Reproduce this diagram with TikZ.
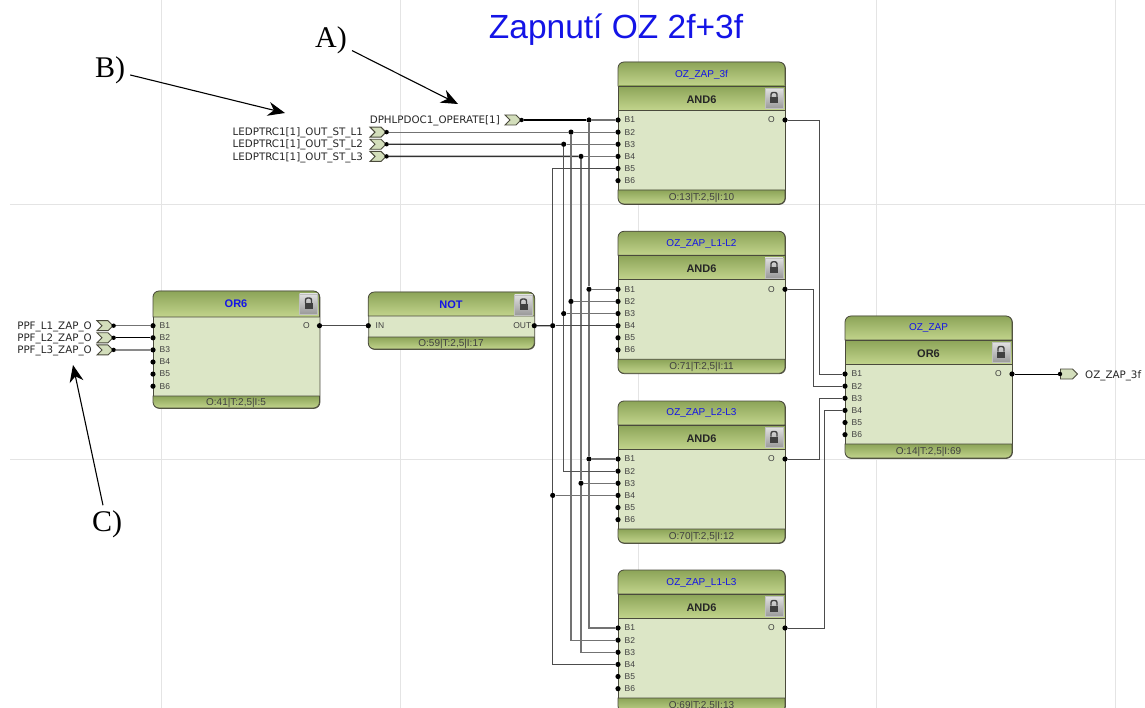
\documentclass[tikz,border=0pt]{standalone}
\usepackage{fontspec}
\setmainfont{Liberation Sans}
\newfontfamily\annotfont{Liberation Serif}
\newfontfamily\pinfont{DejaVu Sans}
\usetikzlibrary{arrows.meta,shapes.symbols}
\definecolor{edgeC}{HTML}{4A4A3C}
\definecolor{bodyC}{HTML}{DCE6C6}
\definecolor{bandTop}{HTML}{8CA458}
\definecolor{bandBot}{HTML}{C2D48C}
\definecolor{pinC}{HTML}{D3DEBB}
\definecolor{titleC}{HTML}{1414E6}
\definecolor{gridC}{HTML}{E4E4E4}
\begin{document}
\begin{tikzpicture}[x=1pt,y=-1pt,
    gridline/.style={gridC,line width=1pt},
    blockbody/.style={draw=edgeC,fill=bodyC,rounded corners=6pt,anchor=north west,inner sep=0pt,line width=.8pt},
    band/.style={draw=edgeC,line width=.8pt,top color=bandTop,bottom color=bandBot},
    port/.style={circle,fill=black,inner sep=0pt,minimum size=5.2pt},
    portlabel/.style={font=\fontsize{8.5}{10}\selectfont,text=black!75,inner sep=0pt},
    blocktitle/.style={font=\fontsize{10}{12}\selectfont,text=titleC,inner sep=0pt},
    blocktitleb/.style={font=\fontsize{11}{13}\selectfont\bfseries,text=titleC,inner sep=0pt},
    gatename/.style={font=\fontsize{11}{13}\selectfont\bfseries,text=black!85,inner sep=0pt},
    footer/.style={font=\fontsize{10}{12}\selectfont,text=black!75,inner sep=0pt},
    inpin/.style={signal,signal to=east,signal from=west,draw=edgeC,fill=pinC,line width=.9pt,minimum width=16pt,minimum height=10pt,inner sep=0pt},
    outpin/.style={signal,signal to=east,draw=edgeC,fill=pinC,line width=.9pt,minimum width=17pt,minimum height=10pt,inner sep=0pt},
    pintext/.style={font=\pinfont\fontsize{10.3}{12}\selectfont,text=black!85,inner sep=0pt},
    annot/.style={font=\annotfont\fontsize{30}{32}\selectfont,inner sep=5pt},
    pointer/.style={-{Stealth[length=17pt,width=14pt]},line width=1.1pt},
    wire/.style={black!55,line width=1.2pt},
    wiredark/.style={black!80,line width=1.3pt},
    wiremid/.style={black!68,line width=1.2pt},
    wireblack/.style={black,line width=1.4pt},
    wirethin/.style={black!70,line width=.9pt},
    lockbtn/.pic={
      \shade[top color=black!12,bottom color=black!40,draw=black!25] (-9,-10) rectangle (9,10);
      \fill[black!75] (-4,-1) rectangle (4,5);
      \draw[black!75,line width=1.4pt,rounded corners=2pt] (-3,-1) -- (-3,-6) -- (3,-6) -- (3,-1);
    }]
  \clip (0,0) rectangle (1145,708);
  % background grid
  \foreach \gx in {161,400,638,876,1115}{ \draw[gridline] (\gx,0) -- (\gx,708); }
  \foreach \gy in {205,459}{ \draw[gridline] (10,\gy) -- (1145,\gy); }
  % title
  \node[font=\fontsize{33.5}{38}\selectfont,text=titleC,inner sep=0pt] (heading) at (616,30) {Zapnutí OZ 2f+3f};
  % blocks with name and gate
  \foreach \n/\x/\y/\ttl/\gate/\foot in {
      zap3f/618/62/OZ\_ZAP\_3f/AND6/{O:13|T:2,5|I:10},
      zap12/618/231.3/OZ\_ZAP\_L1-L2/AND6/{O:71|T:2,5|I:11},
      zap23/618/401/OZ\_ZAP\_L2-L3/AND6/{O:70|T:2,5|I:12},
      zap13/618/570/OZ\_ZAP\_L1-L3/AND6/{O:69|T:2,5|I:13},
      zapout/845/316/OZ\_ZAP/OR6/{O:14|T:2,5|I:69}}{
    \node[blockbody,minimum width=167pt,minimum height=142pt] (\n) at (\x,\y) {};
    \path[band] (\x,\y+24) [rounded corners=6pt] -- (\x,\y) -- (\x+167,\y) [sharp corners] -- (\x+167,\y+24) -- cycle;
    \path[band] (\x,\y+24) rectangle (\x+167,\y+48);
    \path[band] (\x,\y+128) -- (\x+167,\y+128) [rounded corners=6pt] -- (\x+167,\y+142) -- (\x,\y+142) [sharp corners] -- cycle;
    \node[blocktitle] (\n-t) at (\x+83.5,\y+12.5) {\ttl};
    \node[gatename] (\n-g) at (\x+83.5,\y+37.5) {\gate};
    \node[footer] (\n-f) at (\x+83.5,\y+135.5) {\foot};
    \pic at (\x+156,\y+36.5) {lockbtn};
    \foreach \k in {1,...,6}{
      \node[port] (\n-B\k) at (\x,\y+58+12.13*\k-12.13) {};
      \node[portlabel,anchor=west] (\n-L\k) at (\x+6.5,\y+58+12.13*\k-12.13) {B\k};
    }
    \node[port] (\n-O) at (\x+167,\y+58) {};
    \node[portlabel,anchor=east] (\n-OL) at (\x+157,\y+58) {O};
  }
  % OR6 on the left
  \node[blockbody,minimum width=166.5pt,minimum height=117pt] (orin) at (153,291) {};
  \path[band] (153,317) [rounded corners=6pt] -- (153,291) -- (319.5,291) [sharp corners] -- (319.5,317) -- cycle;
  \path[band] (153,396) -- (319.5,396) [rounded corners=6pt] -- (319.5,408) -- (153,408) [sharp corners] -- cycle;
  \node[blocktitleb] (orin-t) at (236,304) {OR6};
  \node[footer] (orin-f) at (236,402.5) {O:41|T:2,5|I:5};
  \pic at (308.5,304) {lockbtn};
  \foreach \k in {1,...,6}{
    \node[port] (orin-B\k) at (153,325.7+12.1*\k-12.1) {};
    \node[portlabel,anchor=west] (orin-L\k) at (159.5,325.7+12.1*\k-12.1) {B\k};
  }
  \node[port] (orin-O) at (319.5,325.7) {};
  \node[portlabel,anchor=east] (orin-OL) at (310,325.7) {O};
  % NOT
  \node[blockbody,minimum width=166pt,minimum height=57pt] (notg) at (368.3,292) {};
  \path[band] (368.3,316) [rounded corners=6pt] -- (368.3,292) -- (534.3,292) [sharp corners] -- (534.3,316) -- cycle;
  \path[band] (368.3,337) -- (534.3,337) [rounded corners=6pt] -- (534.3,349) -- (368.3,349) [sharp corners] -- cycle;
  \node[blocktitleb] (notg-t) at (451,304.5) {NOT};
  \node[footer] (notg-f) at (451,343.5) {O:59|T:2,5|I:17};
  \pic at (523.5,305) {lockbtn};
  \node[port] (notg-IN) at (368.3,325.7) {};
  \node[portlabel,anchor=west] (notg-INL) at (375.5,325.7) {IN};
  \node[port] (notg-O) at (534.3,325.7) {};
  \node[portlabel,anchor=east] (notg-OL) at (531.5,325.7) {OUT};
  % input pins
  \foreach \n/\px/\py/\tx/\txt in {
      dp/513/120/500/DPHLPDOC1\_OPERATE[1],
      led1/378/132.13/363/LEDPTRC1[1]\_OUT\_ST\_L1,
      led2/378/144.26/363/LEDPTRC1[1]\_OUT\_ST\_L2,
      led3/378/156.39/363/LEDPTRC1[1]\_OUT\_ST\_L3,
      ppf1/105/325.7/92/PPF\_L1\_ZAP\_O,
      ppf2/105/337.8/92/PPF\_L2\_ZAP\_O,
      ppf3/105/349.9/92/PPF\_L3\_ZAP\_O}{
    \node[inpin] (\n) at (\px,\py) {};
    \node[port,minimum size=4.4pt] (\n-o) at (\n.east) {};
    \node[pintext,anchor=east] (\n-t) at (\tx,\py+1) {\txt};
  }
  % output pin
  \node[outpin,anchor=west] (zapq) at (1060,374) {};
  \node[port,minimum size=4.4pt] (zapq-i) at (zapq.west) {};
  \node[pintext,anchor=west] (zapq-t) at (1085,375.5) {OZ\_ZAP\_3f};
  % vertical buses
  \coordinate (bus1) at (589,0);
  \coordinate (bus2) at (571,0);
  \coordinate (bus3) at (563.7,0);
  \coordinate (bus4) at (581,0);
  \coordinate (bus5) at (552.7,0);
  \node[port] (j1a) at (bus1 |- zap3f-B1) {};
  \node[port] (j1b) at (bus1 |- zap12-B1) {};
  \node[port] (j1c) at (bus1 |- zap23-B1) {};
  \node[port] (j2a) at (bus2 |- zap3f-B2) {};
  \node[port] (j2b) at (bus2 |- zap12-B2) {};
  \node[port] (j3a) at (bus3 |- zap3f-B3) {};
  \node[port] (j3b) at (bus3 |- zap12-B3) {};
  \node[port] (j4a) at (bus4 |- zap3f-B4) {};
  \node[port] (j4c) at (bus4 |- zap23-B3) {};
  \node[port] (j5b) at (bus5 |- zap12-B4) {};
  \node[port] (j5c) at (bus5 |- zap23-B4) {};
  % wires from the pins
  \draw[wireblack] (dp-o) -- (j1a);
  \draw[wire] (led1-o) -- (j2a);
  \draw[wiredark] (led2-o) -- (j3a);
  \draw[wiredark] (led3-o) -- (j4a);
  \foreach \j/\b in {j1a/zap3f-B1,j2a/zap3f-B2,j3a/zap3f-B3,j4a/zap3f-B4,
      j1b/zap12-B1,j2b/zap12-B2,j3b/zap12-B3,j1c/zap23-B1,j4c/zap23-B3,j5c/zap23-B4}{
    \draw[wire] (\j) -- (\b);
  }
  \draw[wire] (j1a) -- (j1b) -- (j1c) -- (bus1 |- zap13-B1) -- (zap13-B1);
  \draw[wire] (j2a) -- (j2b) -- (bus2 |- zap13-B2) -- (zap13-B2);
  \draw[wiremid] (j3a) -- (j3b) -- (bus3 |- zap23-B2) -- (zap23-B2);
  \draw[wire] (j4a) -- (j4c) -- (bus4 |- zap13-B3) -- (zap13-B3);
  \draw[wirethin] (zap3f-B5) -- (bus5 |- zap3f-B5) -- (j5b) -- (j5c) -- (bus5 |- zap13-B4) -- (zap13-B4);
  \draw[wiredark] (notg-O) -- (j5b);
  \draw[wirethin] (j5b) -- (zap12-B4);
  % left side
  \draw[wire] (ppf1-o) -- (orin-B1);
  \draw[wirethin,black] (ppf2-o) -- (orin-B2);
  \draw[wire,black!70] (ppf3-o) -- (orin-B3);
  \draw[wirethin] (orin-O) -- (notg-IN);
  % outputs into the last OR6
  \coordinate (riseA) at (819.5,0);
  \coordinate (riseB) at (813.5,0);
  \coordinate (riseC) at (819.5,0);
  \coordinate (riseD) at (824.5,0);
  \draw[wirethin] (zap3f-O) -| (riseA |- zapout-B1) -- (zapout-B1);
  \draw[wirethin] (zap12-O) -| (riseB |- zapout-B2) -- (zapout-B2);
  \draw[wirethin] (zap23-O) -| (riseC |- zapout-B3) -- (zapout-B3);
  \draw[wirethin] (zap13-O) -| (riseD |- zapout-B4) -- (zapout-B4);
  \draw[wirethin,black] (zapout-O) -- (zapq-i);
  % annotations
  \node[annot] (noteA) at (331,40) {A)};
  \node[annot] (noteB) at (110,70) {B)};
  \node[annot] (noteC) at (107,524) {C)};
  \coordinate (tipA) at (458,104);
  \coordinate (tipB) at (285,113);
  \coordinate (tipC) at (73,365);
  \draw[pointer] (noteA) -- (tipA);
  \draw[pointer] (noteB) -- (tipB);
  \draw[pointer] (noteC) -- (tipC);
\end{tikzpicture}
\end{document}
